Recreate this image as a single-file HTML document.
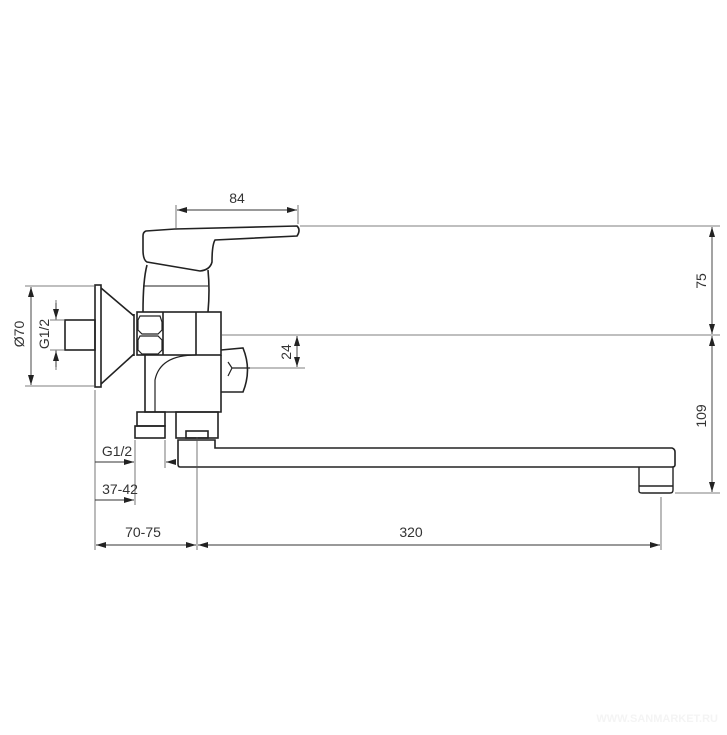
<!DOCTYPE html>
<html><head><meta charset="utf-8"><style>
html,body{margin:0;padding:0;background:#fff}
svg{display:block}
text{font-family:"Liberation Sans",sans-serif;fill:#333;font-size:14px}
</style></head><body>
<svg width="727" height="735" viewBox="0 0 727 735" xmlns="http://www.w3.org/2000/svg">
<defs>
<marker id="a" viewBox="0 0 10 6" refX="10" refY="3" markerWidth="10" markerHeight="6" orient="auto-start-reverse" markerUnits="userSpaceOnUse"><path d="M0,0 L10,3 L0,6Z" fill="#222"/></marker>
</defs>
<g fill="none" stroke="#222" stroke-width="1.6">
<path d="M146,231 L175,229 L297,226 Q301,230 297,236 L215,240 Q212,245 212,262 Q210,270 200,271 L147,262 Q143,260 143,250 L143,236 Q143,232 146,231Z"/>
<path d="M147,265 Q143,280 143,312 M208,270 Q210,290 208,312"/>
<path d="M143,286 L208,286" stroke-width="1"/>
<rect x="137" y="312" width="84" height="43"/>
<path d="M163,355 L163,312 M196,312 L196,355" />
<path d="M145,355 L145,412 L221,412 L221,355"/>
<path d="M196,355 Q160,355 155,380 L155,412" stroke-width="1.2"/>
<path d="M140,316 L160,316 L162,322 L162,330 L158,334 L142,334 L138,330 L138,320Z M140,336 L158,336 L162,340 L162,350 L158,354 L142,354 L138,350 L138,340Z" stroke-width="1.2"/>
<rect x="95" y="285" width="6" height="102"/>
<path d="M101,288 L134,316 M101,384 L134,354 M134,314 L134,356"/>
<rect x="65" y="320" width="30" height="30"/>
<path d="M221,350 L243,348 Q252,370 243,392 L221,392" />
<path d="M232,368 L250,368 M232,368 L228,362 M232,368 L228,376" stroke-width="1.2"/>
<rect x="137" y="412" width="28" height="14"/>
<rect x="135" y="426" width="30" height="12"/>
<rect x="176" y="412" width="42" height="26"/>
<rect x="186" y="431" width="22" height="7"/>
<path d="M178,440 L215,440 L215,448 L672,448 Q675,449 675,452 L675,465 Q675,467 672,467 L180,467 Q178,467 178,464Z"/>
<path d="M639,467 L639,491 Q639,493 642,493 L670,493 Q673,493 673,490 L673,467 M639,486 L673,486" stroke-width="1.4"/>
</g>
<g stroke="#555" stroke-width="0.8" fill="none">
<path d="M176,205 L176,230 M298,205 L298,224"/>
<path d="M300,226 L720,226 M222,335 L720,335 M250,368 L305,368 M675,493 L720,493"/>
<path d="M25,286 L95,286 M25,386 L95,386"/>
<path d="M50,320 L65,320 M50,350 L65,350 M56,300 L56,320 M56,350 L56,370"/>
<path d="M95,390 L95,550 M135,440 L135,505 M165,440 L165,468 M197,437 L197,550 M661,497 L661,550"/>
</g>
<g stroke="#333" stroke-width="0.9" fill="none" marker-start="url(#a)" marker-end="url(#a)">
<line x1="177" y1="210" x2="297" y2="210"/>
<line x1="712" y1="227" x2="712" y2="334"/>
<line x1="712" y1="336" x2="712" y2="492"/>
<line x1="297" y1="336" x2="297" y2="367"/>
<line x1="31" y1="287" x2="31" y2="385"/>
<line x1="96" y1="545" x2="196" y2="545"/>
<line x1="198" y1="545" x2="660" y2="545"/>
</g>
<g stroke="#333" stroke-width="0.9" fill="none">
<line x1="56" y1="303" x2="56" y2="319" marker-end="url(#a)"/>
<line x1="56" y1="367" x2="56" y2="351" marker-end="url(#a)"/>
<line x1="95" y1="462" x2="134" y2="462" marker-end="url(#a)"/>
<line x1="176" y1="462" x2="166" y2="462" marker-end="url(#a)"/>
<line x1="95" y1="500" x2="134" y2="500" marker-end="url(#a)"/>
</g>
<text x="117" y="456" text-anchor="middle">G1/2</text>
<text x="237" y="203" text-anchor="middle">84</text>
<text x="120" y="494" text-anchor="middle">37-42</text>
<text x="143" y="537" text-anchor="middle">70-75</text>
<text x="411" y="537" text-anchor="middle">320</text>
<text transform="translate(706,281) rotate(-90)" text-anchor="middle">75</text>
<text transform="translate(706,416) rotate(-90)" text-anchor="middle">109</text>
<text transform="translate(291,352) rotate(-90)" text-anchor="middle">24</text>
<text transform="translate(24,334) rotate(-90)" text-anchor="middle">Ø70</text>
<text transform="translate(49,334) rotate(-90)" text-anchor="middle">G1/2</text>
<text x="718" y="722" text-anchor="end" style="font-size:11px;font-weight:bold;fill:#f4f4f4">WWW.SANMARKET.RU</text>
</svg>
</body></html>
